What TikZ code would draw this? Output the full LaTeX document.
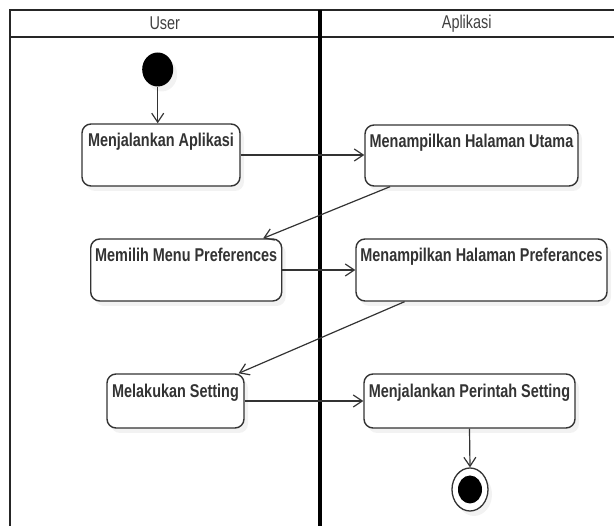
\documentclass[tikz,border=0pt]{standalone}
\usepackage{fontspec}
\setmainfont{Liberation Sans}[FakeStretch=0.78]
\usetikzlibrary{positioning,calc,arrows.meta,shadows,shapes.geometric}

\definecolor{linegray}{HTML}{333333}

\tikzset{
    act/.style={draw=linegray, line width=1.4pt, rounded corners=9pt, fill=white,
        drop shadow={shadow xshift=4pt, shadow yshift=-5pt, opacity=0.1}},
    acttext/.style={font=\bfseries\fontsize{18.5}{21}\selectfont, text=linegray, inner sep=0pt},
    lanetext/.style={font=\fontsize{18.5}{21}\selectfont, text=black!75},
    flow/.style={draw=linegray, line width=1.2pt, -{Straight Barb[length=9pt,width=12pt]}},
}

\begin{document}
\begin{tikzpicture}[x=1pt, y=-1pt]
        \useasboundingbox (0,0) rectangle (614,526);

        % LANES
        \draw[line width=2pt, black!85] (10,526) -- (10,10) -- (614,10);
        \draw[line width=2pt, black!85] (10,37) -- (614,37);
        \draw[line width=4pt] (319.5,10) -- (319.5,526);
        \node[lanetext] (laneuser) at (164.75,23.5) {User};
        \node[lanetext] (laneapp) at (466.75,23.5) {Aplikasi};

        % START
        \node[ellipse, fill=black, minimum width=31, minimum height=34, inner sep=0pt,
            drop shadow={shadow xshift=4pt, shadow yshift=-5pt, opacity=0.1}] (start) at (157.7,69.5) {};

        % ROW 1
        \node[act, minimum width=158, minimum height=62] (b1) at (161,155) {};
        \node[acttext, below=9.5pt of b1.north] (t1) {Menjalankan Aplikasi};
        \node[act, minimum width=213, minimum height=61] (b2) at (471.5,155.5) {};
        \node[acttext, below=9.5pt of b2.north] (t2) {Menampilkan Halaman Utama};

        % ROW 2
        \node[act, minimum width=191, minimum height=62] (b3) at (186.2,270) {};
        \node[acttext, below=9.5pt of b3.north] (t3) {Memilih Menu Preferences};
        \node[act, minimum width=251, minimum height=62] (b4) at (481.5,270) {};
        \node[acttext, below=9.5pt of b4.north] (t4) {Menampilkan Halaman Preferances};

        % ROW 3
        \node[act, minimum width=137, minimum height=54] (b5) at (175.5,401) {};
        \node[acttext, below=11pt of b5.north] (t5) {Melakukan Setting};
        \node[act, minimum width=211, minimum height=54] (b6) at (469.5,401) {};
        \node[acttext, below=11pt of b6.north] (t6) {Menjalankan Perintah Setting};

        % END
        \node[ellipse, draw=linegray, line width=1.3pt, fill=white, minimum width=36, minimum height=43, inner sep=0pt,
            drop shadow={shadow xshift=4pt, shadow yshift=-5pt, opacity=0.1}] (end) at (470,489.5) {};
        \node[ellipse, fill=black, minimum width=24, minimum height=28, inner sep=0pt] (endin) at (end.center) {};

        % FLOWS
        \draw[flow] (start.south) -- (start.south |- b1.north);
        \draw[flow] (b1.east) -- (b1.east -| b2.west);
        \draw[flow] ($(b2.south west)!0.12!(b2.south east)$) -- ($(b3.north west)!0.9!(b3.north east)$);
        \draw[flow] (b3.east) -- (b3.east -| b4.west);
        \draw[flow] ($(b4.south west)!0.195!(b4.south east)$) -- ($(b5.north west)!0.956!(b5.north east)$);
        \draw[flow] (b5.east) -- (b5.east -| b6.west);
        \draw[flow] (b6.south) -- (end.north);
\end{tikzpicture}
\end{document}
